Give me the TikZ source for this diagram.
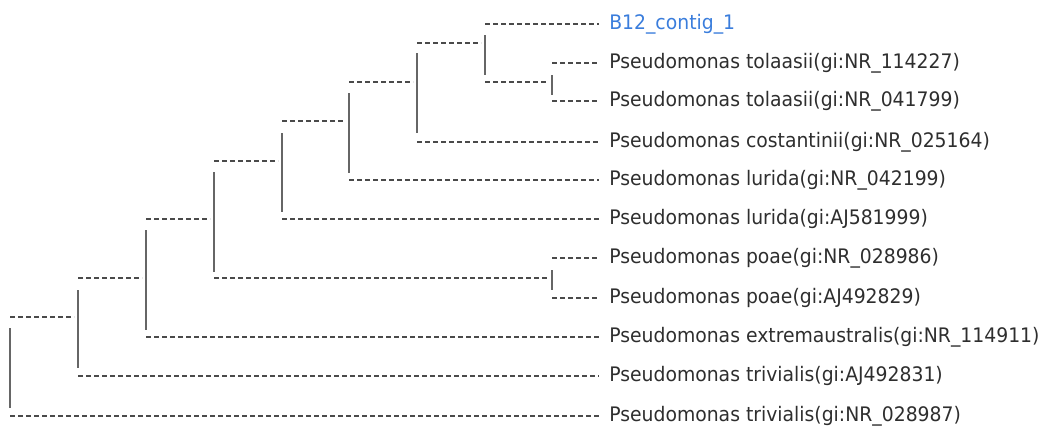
\documentclass[tikz,border=0pt]{standalone}
\usepackage{fontspec}
\usetikzlibrary{calc}
\newfontfamily\labelfont{DejaVu Sans}[FakeStretch=0.94]
\definecolor{labeltext}{HTML}{2E2E2E}
\definecolor{querytext}{HTML}{3A7DDC}
\definecolor{branchdash}{HTML}{4A4A4A}
\definecolor{branchbar}{HTML}{666666}
\begin{document}
\begin{tikzpicture}[x=0.75pt,y=-0.75pt,
  hbranch/.style={draw=branchdash,line width=1.2pt,dash pattern=on 4.1pt off 1.9pt},
  vbar/.style={draw=branchbar,line width=1.5pt},
  leaf/.style={anchor=base west,inner sep=0pt,font=\labelfont\fontsize{15}{18}\selectfont,text=labeltext},
  query/.style={leaf,text=querytext}]
\useasboundingbox (0,0) rectangle (1052,426);

% internal nodes (x of the split, y of the incoming branch)
\coordinate (R) at (10,317);
\coordinate (G) at (78,317);
\coordinate (F) at (146,278);
\coordinate (E) at (214,219);
\coordinate (D) at (282,161);
\coordinate (C) at (349,121);
\coordinate (B) at (417,82);
\coordinate (A) at (485,43);
\coordinate (T) at (552,82);
\coordinate (P) at (552,278);

% ends of the terminal branches
\coordinate (e0)  at (599,24);
\coordinate (e1)  at (599,63);
\coordinate (e2)  at (599,101);
\coordinate (e3)  at (599,142);
\coordinate (e4)  at (599,180);
\coordinate (e5)  at (599,219);
\coordinate (e6)  at (599,258);
\coordinate (e7)  at (599,298);
\coordinate (e8)  at (599,337);
\coordinate (e9)  at (599,376);
\coordinate (e10) at (599,416);

% taxon labels
\node[query] (t0)  at ($(e0)+(10,5)$)  {B12\_contig\_1};
\node[leaf]  (t1)  at ($(e1)+(10,5)$)  {Pseudomonas tolaasii(gi:NR\_114227)};
\node[leaf]  (t2)  at ($(e2)+(10,5)$)  {Pseudomonas tolaasii(gi:NR\_041799)};
\node[leaf]  (t3)  at ($(e3)+(10,5)$)  {Pseudomonas costantinii(gi:NR\_025164)};
\node[leaf]  (t4)  at ($(e4)+(10,5)$)  {Pseudomonas lurida(gi:NR\_042199)};
\node[leaf]  (t5)  at ($(e5)+(10,5)$)  {Pseudomonas lurida(gi:AJ581999)};
\node[leaf]  (t6)  at ($(e6)+(10,5)$)  {Pseudomonas poae(gi:NR\_028986)};
\node[leaf]  (t7)  at ($(e7)+(10,5)$)  {Pseudomonas poae(gi:AJ492829)};
\node[leaf]  (t8)  at ($(e8)+(10,5)$)  {Pseudomonas extremaustralis(gi:NR\_114911)};
\node[leaf]  (t9)  at ($(e9)+(10,5)$)  {Pseudomonas trivialis(gi:AJ492831)};
\node[leaf]  (t10) at ($(e10)+(10,5)$) {Pseudomonas trivialis(gi:NR\_028987)};

% vertical bars joining the two children of each split
\draw[vbar] ($(T|-e1)+(0,12)$) -- ($(T|-e2)+(0,-6)$);
\draw[vbar] ($(P|-e6)+(0,12)$) -- ($(P|-e7)+(0,-8)$);
\draw[vbar] ($(A|-e0)+(0,11)$) -- ($(A|-T)+(0,-7)$);
\draw[vbar] ($(B|-A)+(0,10)$)  -- ($(B|-e3)+(0,-9)$);
\draw[vbar] ($(C|-B)+(0,11)$)  -- ($(C|-e4)+(0,-7)$);
\draw[vbar] ($(D|-C)+(0,12)$)  -- ($(D|-e5)+(0,-7)$);
\draw[vbar] ($(E|-D)+(0,11)$)  -- ($(E|-P)+(0,-6)$);
\draw[vbar] ($(F|-E)+(0,11)$)  -- ($(F|-e8)+(0,-7)$);
\draw[vbar] ($(G|-F)+(0,12)$)  -- ($(G|-e9)+(0,-8)$);
\draw[vbar] ($(R|-G)+(0,11)$)  -- ($(R|-e10)+(0,-8)$);

% branches into internal nodes
\draw[hbranch] (R|-G) -- ($(G)+(-4,0)$);
\draw[hbranch] (G|-F) -- ($(F)+(-4,0)$);
\draw[hbranch] (F|-E) -- ($(E)+(-4,0)$);
\draw[hbranch] (E|-D) -- ($(D)+(-4,0)$);
\draw[hbranch] (D|-C) -- ($(C)+(-4,0)$);
\draw[hbranch] (C|-B) -- ($(B)+(-4,0)$);
\draw[hbranch] (B|-A) -- ($(A)+(-4,0)$);
\draw[hbranch] (A|-T) -- ($(T)+(-4,0)$);
\draw[hbranch] (E|-P) -- ($(P)+(-4,0)$);

% terminal branches
\draw[hbranch] (A|-e0)  -- (e0);
\draw[hbranch] (T|-e1)  -- (e1);
\draw[hbranch] (T|-e2)  -- (e2);
\draw[hbranch] (B|-e3)  -- (e3);
\draw[hbranch] (C|-e4)  -- (e4);
\draw[hbranch] (D|-e5)  -- (e5);
\draw[hbranch] (P|-e6)  -- (e6);
\draw[hbranch] (P|-e7)  -- (e7);
\draw[hbranch] (F|-e8)  -- (e8);
\draw[hbranch] (G|-e9)  -- (e9);
\draw[hbranch] (R|-e10) -- (e10);
\end{tikzpicture}
\end{document}
